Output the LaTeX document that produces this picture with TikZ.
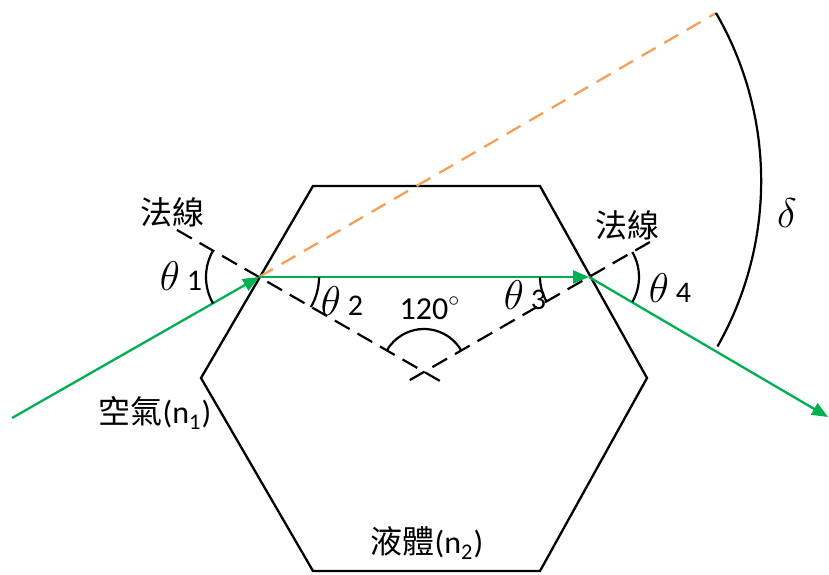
\documentclass[tikz,border=0pt]{standalone}
\usepackage{fontspec}
\setmainfont{Carlito}
\newfontfamily\cjk{Noto Sans CJK TC}
\usepackage{tikz}
\usetikzlibrary{arrows.meta,calc}
\definecolor{raygreen}{RGB}{0,176,80}
\definecolor{extorange}{RGB}{244,160,90}

\begin{document}
\begin{tikzpicture}[
  x=0.5pt,
  y=0.5pt,
  wall/.style={draw=black,line width=1.15pt,line join=miter},
  normal/.style={draw=black,line width=1.1pt,dash pattern=on 8.5pt off 4.5pt},
  ray/.style={draw=raygreen,line width=1.15pt,-{Triangle[length=8pt,width=6.5pt]}},
  extension/.style={draw=extorange,line width=1.15pt,dash pattern=on 8pt off 5pt},
  anglearc/.style={draw=black,line width=1.1pt},
  cjklbl/.style={font=\cjk\fontsize{16}{19}\selectfont,inner sep=0pt},
  anglelbl/.style={font=\fontsize{21}{24}\selectfont,inner sep=0pt},
  numlbl/.style={font=\fontsize{16}{19}\selectfont,inner sep=0pt}
]
  \useasboundingbox (0,0) rectangle (829,574);

  % hexagon
  \draw[wall] (313,388) -- (540,388) -- (647,196) -- (540,3) -- (313,3) -- (201,196) -- cycle;

  \coordinate (src) at (12,156);
  \coordinate (p1) at (259,297);
  \coordinate (p2) at (589,297);
  \coordinate (dst) at (828,157);
  \coordinate (far) at (716,561);
  \coordinate (cross) at (424,202);

  % normals
  \draw[normal] (177,344) -- (p1) -- (447,189);
  \draw[normal] (650,332) -- (p2) -- (403,190);

  % extension of the incident ray
  \draw[extension] (p1) -- (far);

  % rays
  \draw[ray] (src) -- (p1);
  \draw[ray] (p1) -- (p2);
  \draw[ray] (p2) -- (dst);

  % angles
  \draw[anglearc] ($(p1)+(150:53)$) arc[start angle=150,end angle=210,radius=53];
  \draw[anglearc] ($(p1)+(-30:60)$) arc[start angle=-30,end angle=0,radius=60];
  \draw[anglearc] ($(p2)+(180:49)$) arc[start angle=180,end angle=210,radius=49];
  \draw[anglearc] ($(p2)+(-30:50)$) arc[start angle=-30,end angle=30,radius=50];
  \draw[anglearc] ($(cross)+(30:43)$) arc[start angle=30,end angle=150,radius=43];
  \draw[anglearc] (far) arc[start angle=30.1,end angle=-29.6,radius=335];

  % labels
  \node[cjklbl] (n1) at (172,362) {法線};
  \node[cjklbl] (n2) at (627,349) {法線};
  \node[anglelbl] (t1) at (181,298) {$\theta$\,{\fontsize{15}{18}\selectfont 1}};
  \node[anglelbl] (t2) at (342,273) {$\theta$\,{\fontsize{15}{18}\selectfont 2}};
  \node[anglelbl] (t3) at (525,279) {$\theta$\,{\fontsize{15}{18}\selectfont 3}};
  \node[anglelbl] (t4) at (670,286) {$\theta$\,{\fontsize{15}{18}\selectfont 4}};
  \node[numlbl] (apex) at (430,266) {120$^{\circ}$};
  \node[anglelbl] (delta) at (787,361) {$\delta$};
  \node[cjklbl] (air) at (155,161) {空氣\fontspec{Carlito}(n\textsubscript{1})};
  \node[cjklbl] (liq) at (427,31) {液體\fontspec{Carlito}(n\textsubscript{2})};
\end{tikzpicture}
\end{document}
